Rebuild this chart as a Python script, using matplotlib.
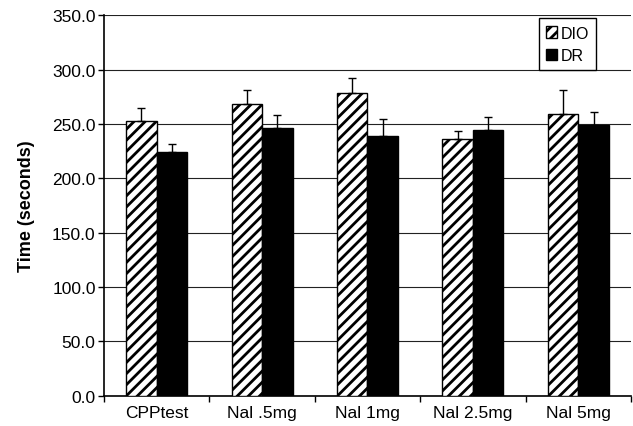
import numpy as np
import matplotlib.pyplot as plt

plt.rcParams['font.family'] = ['Liberation Sans', 'DejaVu Sans']
plt.rcParams['hatch.linewidth'] = 2.0

grupos = ["CPPtest", "Nal .5mg", "Nal 1mg", "Nal 2.5mg", "Nal 5mg"]
dio = [252.8, 268.4, 278.5, 235.9, 259.2]
dio_err = [11.6, 12.6, 14.0, 7.7, 21.8]
dr = [224.5, 246.3, 238.7, 244.5, 249.4]
dr_err = [7.0, 11.7, 16.0, 11.7, 11.3]

fig = plt.figure(figsize=(6.33, 4.27), dpi=100)
ax = fig.add_axes([0.1643, 0.0714, 0.8325, 0.8904])

x = np.arange(len(grupos))
ancho = 0.29

ax.bar(x - ancho / 2, dio, ancho, color="white", edgecolor="black", hatch="///",
       linewidth=1.0, label="DIO", zorder=3)
ax.bar(x + ancho / 2, dr, ancho, color="black", edgecolor="black",
       linewidth=1.0, label="DR", zorder=3)

# barras de error solo hacia arriba
ax.errorbar(x - ancho / 2, dio, yerr=[np.zeros(len(dio)), dio_err], fmt="none",
            ecolor="black", elinewidth=1.0, capsize=3, capthick=1.0, zorder=4)
ax.errorbar(x + ancho / 2, dr, yerr=[np.zeros(len(dr)), dr_err], fmt="none",
            ecolor="black", elinewidth=1.0, capsize=3, capthick=1.0, zorder=2)

ax.set_xlim(-0.5, len(grupos) - 0.5)
ax.set_ylim(0, 350)
ax.set_yticks(np.arange(0, 351, 50))
ax.set_yticklabels([f"{v:.1f}" for v in np.arange(0, 351, 50)], fontsize=12.5)
ax.yaxis.grid(True, color="#222222", linewidth=0.8, zorder=0)
ax.set_axisbelow(True)

# ticks en los limites de cada grupo, etiquetas en el centro
ax.set_xticks(np.arange(-0.5, len(grupos), 1.0))
ax.set_xticklabels([])
ax.set_xticks(x, minor=True)
ax.set_xticklabels(grupos, minor=True, fontsize=12.5)
ax.tick_params(axis="x", which="minor", length=0, pad=7)
ax.tick_params(axis="x", which="major", direction="out", length=4, width=1)
ax.tick_params(axis="y", direction="out", length=4, width=1, pad=2)

ax.spines["top"].set_visible(False)
ax.spines["right"].set_visible(False)
ax.spines["left"].set_linewidth(1.2)
ax.spines["bottom"].set_linewidth(1.2)

ax.set_ylabel("Time (seconds)", fontsize=13, fontweight="bold", labelpad=12)

leg = ax.legend(loc="upper left", bbox_to_anchor=(0.825, 0.992), fontsize=11.5,
                frameon=True, fancybox=False, edgecolor="black", framealpha=1,
                handlelength=0.7, handleheight=0.7, handletextpad=0.2,
                borderaxespad=0, borderpad=0.45, labelspacing=0.45)
leg.get_frame().set_linewidth(1.0)

plt.savefig("out.png", dpi=100)
